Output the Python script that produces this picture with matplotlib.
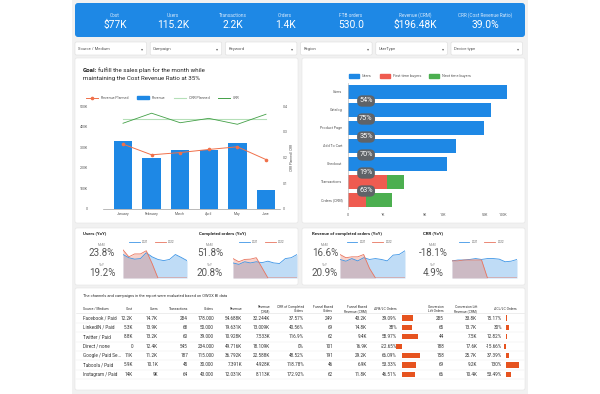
import matplotlib
matplotlib.use('Agg')
import matplotlib.pyplot as plt
from matplotlib.patches import FancyBboxPatch, Rectangle, Patch
from matplotlib.lines import Line2D
import numpy as np

plt.rcParams['font.family'] = ['Roboto', 'DejaVu Sans']

# ---------------- DATA ----------------
kpi_labels = ['Cost', 'Users', 'Transactions', 'Orders', 'FTB orders', 'Revenue (CRM)', 'CRR (Cost Revenue Ratio)']
kpi_values = ['$77K', '115.2K', '2.2K', '1.4K', '530.0', '$196.48K', '39.0%']

filters = ['Source / Medium', 'Campaign', 'Keyword', 'Region', 'UserType', 'Device type']

months = ['January', 'February', 'March', 'April', 'May', 'June']
revenue = [330000, 247000, 287000, 287000, 319000, 94000]
revenue_planned = [315000, 263000, 274000, 289000, 302000, 240000]
crr = [0.333, 0.372, 0.335, 0.352, 0.329, 0.368]
crr_planned = [0.35, 0.35, 0.35, 0.35, 0.35, 0.35]
rev_ticks = [0, 100000, 200000, 300000, 400000, 500000]
rev_tick_labels = ['0', '100K', '200K', '300K', '400K', '500K']
crr_ticks = [0, 0.1, 0.2, 0.3, 0.4]
crr_tick_labels = ['0', '0.1', '0.2', '0.3', '0.4']

stages = ['Users', 'Catalog', 'Product Page', 'Add To Cart', 'Checkout', 'Transactions', 'Orders (CRM)']
stage_users = [115200, 64000, 47600, 16700, 11800, 0, 0]
first_time_buyers = [0, 0, 0, 0, 0, 1170, 530]
next_time_buyers = [0, 0, 0, 0, 0, 1030, 870]
step_conversion = ['54%', '75%', '35%', '70%', '19%', '63%']
funnel_ticks = [261, 1000, 5000, 10000, 50000, 100000]
funnel_tick_labels = ['0', '1K', '5K', '10K', '50K', '100K']

mini_titles = ['Users (YoY)', 'Completed orders (YoY)', 'Revenue of completed orders (YoY)', 'CRR (YoY)']
mini_mom = ['23.8%', '51.8%', '16.6%', '-18.1%']
mini_yoy = ['19.2%', '20.8%', '20.9%', '4.9%']
users_2021 = [81, 70, 65, 67, 87, 73, 64, 60, 64, 81, 71, 60]
users_2022 = [97, 73, 83, 83, 94, 50, 0, 0, 0, 0, 0, 0]
orders_2021 = [52, 47, 56, 52, 56, 53, 58, 52, 50, 67, 70, 81]
orders_2022 = [67, 56, 64, 65, 70, 35, 0, 0, 0, 0, 0, 0]
revco_2021 = [64, 58, 67, 59, 70, 64, 67, 64, 59, 79, 81, 94]
revco_2022 = [81, 70, 73, 73, 81, 33, 0, 0, 0, 0, 0, 0]
crryoy_2021 = [59, 62, 62, 64, 67, 64, 67, 67, 65, 56, 58, 64]
crryoy_2022 = [59, 59, 62, 62, 62, 62, 0, 0, 0, 0, 0, 0]

table_title = 'The channels and campaigns in the report were evaluated based on OWOX BI data'
table_headers = ['Source / Medium', 'Cost', 'Users', 'Transactions', 'Orders', 'Revenue', 'Revenue\n(CRM)',
                 'CRR of Completed\nOrders', 'Funnel Based\nOrders', 'Funnel Based\nRevenue (CRM)',
                 'ΔFB/LC Orders', 'Conversion\nLift Orders', 'Conversion Lift\nRevenue (CRM)', 'ΔCL/LC Orders']
src_medium = ['Facebook / Paid', 'LinkedIN / Paid', 'Twitter / Paid', 'Direct / none', 'Google / Paid Se...',
              'Taboola / Paid', 'Instagram / Paid']
t_cost = ['12.2K', '5.3K', '8.8K', '0', '11K', '5.9K', '14K']
t_users = ['14.7K', '13.9K', '13.2K', '12.4K', '11.2K', '10.1K', '9K']
t_trans = ['284', '68', '60', '545', '187', '45', '64']
t_orders = ['178.000', '50.000', '39.000', '234.000', '115.000', '30.000', '43.000']
t_revenue = ['54.688K', '19.631K', '10.928K', '49.716K', '36.792K', '7.391K', '12.031K']
t_rev_crm = ['32.244K', '13.009K', '7.533K', '18.109K', '22.588K', '4.928K', '8.113K']
t_crr = ['37.57%', '40.56%', '116.9%', '0%', '48.52%', '118.78%', '172.92%']
t_fb_orders = ['249', '69', '62', '101', '191', '46', '62']
t_fb_rev = ['43.2K', '14.8K', '9.4K', '16.9K', '29.2K', '6.9K', '11.8K']
d_fb_lc = [39.09, 38.0, 58.97, -22.65, 66.09, 53.33, 46.51]
t_cl_orders = ['285', '65', '44', '188', '158', '69', '66']
t_cl_rev = ['33.8K', '13.7K', '7.5K', '17.6K', '25.7K', '9.2K', '10.4K']
d_cl_lc = [15.17, 30.0, 12.82, -15.66, 37.39, 130.0, 53.49]

# ---------------- LAYOUT ----------------
W, H = 600, 394
fig = plt.figure(figsize=(6, 3.94), dpi=100)
fig.patch.set_facecolor('white')


def ax_px(x0, y0, x1, y1):
    return fig.add_axes([x0 / W, 1 - y1 / H, (x1 - x0) / W, (y1 - y0) / H])


bg = ax_px(0, 0, W, H)
bg.set_xlim(0, W)
bg.set_ylim(H, 0)
bg.axis('off')
bg.set_zorder(0)


def panel(x0, y0, x1, y1, fc='white', ec='#e4e4e4', r=2.0, lw=0.4):
    bg.add_patch(FancyBboxPatch((x0, y0), x1 - x0, y1 - y0,
                                boxstyle=f'round,pad=0,rounding_size={r}',
                                fc=fc, ec=ec, lw=lw))


# page background
bg.add_patch(Rectangle((72, 0), 456, 394, fc='#f1f1f1', ec='none'))

# KPI bar
BLUE = '#1e88e5'
panel(75, 3, 525, 37, fc=BLUE, ec='none', r=3)
kpi_x = [115, 173, 233, 285, 351, 415, 485]
for x, lab, val in zip(kpi_x, kpi_labels, kpi_values):
    bg.text(x, 15, lab, ha='center', va='center', fontsize=3.4, color='#d6e9fb')
    bg.text(x, 24.5, val, ha='center', va='center', fontsize=7.4, color='white')

# filter dropdowns
for i, f in enumerate(filters):
    x0 = 75 + i * 75.2
    panel(x0, 42, x0 + 71.5, 55, ec='#dcdcdc', r=1.5)
    bg.text(x0 + 3, 48.7, f, ha='left', va='center', fontsize=3.0, color='#555555')
    bg.text(x0 + 67, 48.7, '▾', ha='center', va='center', fontsize=3.0, color='#666666')

# main panels
panel(75, 58, 298, 223)
panel(302, 58, 525, 223)
panel(75, 228, 298, 285)
panel(302, 228, 525, 285)
panel(75, 288, 525, 390)

# ---------------- LEFT CHART ----------------
bg.text(83, 70.5, 'Goal:', ha='left', va='center', fontsize=4.4, fontweight='bold', color='#222222')
bg.text(97.5, 70.5, 'fulfill the sales plan for the month while', ha='left', va='center',
        fontsize=4.4, color='#222222')
bg.text(83, 78.5, 'maintaining the Cost Revenue Ratio at 35%', ha='left', va='center',
        fontsize=4.4, color='#222222')

ORANGE = '#f0704a'
GREEN = '#43a047'
LGREEN = '#b5dfb7'
ax1 = ax_px(103, 106, 280, 209)
ax1.set_zorder(2)
ax1.patch.set_alpha(0)
xpos = np.arange(len(months))
ax1.bar(xpos, revenue, width=0.64, color=BLUE, zorder=2)
ax1.plot(xpos, revenue_planned, color=ORANGE, lw=0.7, marker='o', ms=1.6, zorder=3)
ax1.set_xlim(-0.7, 5.49)
ax1.set_ylim(0, 500000)
ax1.set_yticks(rev_ticks)
ax1.set_yticklabels(rev_tick_labels)
ax1.set_xticks(xpos)
ax1.set_xticklabels(months)
ax1.tick_params(axis='both', length=0, labelsize=2.5, colors='#555555')
ax1.tick_params(axis='y', pad=11)
ax1.tick_params(axis='x', pad=2.5)
for s in ['top', 'right', 'left']:
    ax1.spines[s].set_visible(False)
ax1.spines['bottom'].set_color('#9e9e9e')
ax1.spines['bottom'].set_linewidth(0.5)

ax2 = ax1.twinx()
ax2.plot(xpos, crr_planned, color=LGREEN, lw=0.8)
ax2.plot(xpos, crr, color=GREEN, lw=0.6)
ax2.set_ylim(0, 0.4)
ax2.set_yticks(crr_ticks)
ax2.set_yticklabels(crr_tick_labels)
ax2.tick_params(axis='y', length=0, labelsize=2.5, colors='#555555', pad=2)
for s in ['top', 'right', 'left', 'bottom']:
    ax2.spines[s].set_visible(False)
ax2.set_ylabel('CRR Planned | CRR', fontsize=2.3, color='#555555', labelpad=2)

leg_handles = [Line2D([0], [0], color=ORANGE, lw=0.7, marker='o', ms=1.6),
               Patch(color=BLUE),
               Line2D([0], [0], color=LGREEN, lw=0.8),
               Line2D([0], [0], color=GREEN, lw=0.7)]
fig.legend(leg_handles, ['Revenue Planned', 'Revenue', 'CRR Planned', 'CRR'],
           loc='center', bbox_to_anchor=(163 / W, 1 - 98 / H), ncol=4, fontsize=2.6,
           frameon=False, handlelength=3.2, handleheight=1.0, columnspacing=2.5,
           labelcolor='#555555')

# ---------------- FUNNEL CHART ----------------
RED = '#ef5b50'
FGREEN = '#4caf50'
ax3 = ax_px(348, 83, 512, 209)
ax3.set_zorder(2)
ax3.patch.set_alpha(0)
ax3.set_xscale('log')
ypos = np.arange(len(stages))
ax3.barh(ypos, stage_users, height=0.78, color=BLUE)
ax3.barh(ypos, first_time_buyers, height=0.78, color=RED)
ax3.barh(ypos, next_time_buyers, left=first_time_buyers, height=0.78, color=FGREEN)
ax3.set_xlim(261, 141000)
ax3.set_ylim(6.5, -0.5)
ax3.set_yticks(ypos)
ax3.set_yticklabels(stages)
ax3.set_xticks(funnel_ticks)
ax3.set_xticklabels(funnel_tick_labels)
ax3.xaxis.set_minor_locator(matplotlib.ticker.NullLocator())
ax3.tick_params(axis='both', length=0, labelsize=2.6, colors='#555555')
ax3.tick_params(axis='y', pad=4)
ax3.tick_params(axis='x', pad=3)
for s in ['top', 'right', 'bottom']:
    ax3.spines[s].set_visible(False)
ax3.spines['left'].set_color('#bdbdbd')
ax3.spines['left'].set_linewidth(0.5)
btrans = matplotlib.transforms.blended_transform_factory(ax3.transAxes, ax3.transData)
for i, p in enumerate(step_conversion):
    ax3.text(0.11, i + 0.5, p, transform=btrans, ha='center', va='center', fontsize=5.2,
             color='white', zorder=5,
             bbox=dict(boxstyle='round,pad=0.3,rounding_size=0.7', fc='#5f6368', ec='none'))
fig.legend([Patch(color=BLUE), Patch(color=RED), Patch(color=FGREEN)],
           ['Users', 'First time buyers', 'Next time buyers'],
           loc='center', bbox_to_anchor=(410 / W, 1 - 76 / H), ncol=3, fontsize=2.8,
           frameon=False, handlelength=2.6, handleheight=1.1, columnspacing=2.0,
           labelcolor='#555555')

# ---------------- MINI CHARTS ----------------
MBLUE = '#3d95e6'
MRED = '#e8755f'
mini_cfg = [
    (83, 102, (123, 249, 187, 278), users_2021, users_2022),
    (199, 210, (233, 249, 297, 278), orders_2021, orders_2022),
    (312, 325, (340, 249, 405, 278), revco_2021, revco_2022),
    (423, 433, (452, 249, 517, 278), crryoy_2021, crryoy_2022),
]
for k, (tx, vx, box, s21, s22) in enumerate(mini_cfg):
    bg.text(tx, 233.5, mini_titles[k], ha='left', va='center', fontsize=3.2, fontweight='bold',
            color='#222222')
    bg.text(vx, 245, 'MoM', ha='center', va='center', fontsize=2.3, color='#888888')
    bg.text(vx, 253, mini_mom[k], ha='center', va='center', fontsize=7.0, color='#555555')
    bg.text(vx, 264.5, 'YoY', ha='center', va='center', fontsize=2.3, color='#888888')
    bg.text(vx, 272.5, mini_yoy[k], ha='center', va='center', fontsize=7.0, color='#555555')
    ax = ax_px(*box)
    ax.set_zorder(2)
    xs = np.arange(len(s21))
    ax.fill_between(xs, s21, color=MBLUE, alpha=0.33, lw=0)
    ax.plot(xs, s21, color=MBLUE, lw=0.6)
    ax.fill_between(xs, s22, color=MRED, alpha=0.33, lw=0)
    ax.plot(xs, s22, color=MRED, lw=0.6)
    ax.set_xlim(0, len(s21) - 1)
    ax.set_ylim(0, 100)
    ax.axis('off')
    ax.legend([Line2D([0], [0], color=MBLUE, lw=0.6), Line2D([0], [0], color=MRED, lw=0.6)],
              ['2021', '2022'], loc='center', bbox_to_anchor=(0.45, 1.24), ncol=2,
              fontsize=2.2, frameon=False, handlelength=3.5, columnspacing=2.0,
              labelcolor='#666666')

# ---------------- TABLE ----------------
bg.text(83, 295.5, table_title, ha='left', va='center', fontsize=2.9, color='#333333')
col_x = [83, 133, 158, 188, 214, 242, 270, 304, 333, 367, 397, 444, 477, 517]
for j, (x, h) in enumerate(zip(col_x, table_headers)):
    bg.text(x, 309, h, ha='left' if j == 0 else 'right', va='center', fontsize=2.4,
            color='#333333', linespacing=1.0)
ROW0, ROWH = 318, 9.4
bg.plot([76, 524], [313.3, 313.3], color='#e0e0e0', lw=0.4)
columns = [src_medium, t_cost, t_users, t_trans, t_orders, t_revenue, t_rev_crm, t_crr,
           t_fb_orders, t_fb_rev, [f'{v:g}%' for v in d_fb_lc], t_cl_orders, t_cl_rev,
           [f'{v:g}%' for v in d_cl_lc]]
val_x = [83, 133, 158, 188, 214, 242, 270, 304, 333, 367, 397, 444, 477, 502]
for i in range(len(src_medium)):
    y = ROW0 + i * ROWH
    for j, col in enumerate(columns):
        bg.text(val_x[j], y, col[i], ha='left' if j == 0 else 'right', va='center',
                fontsize=3.3, color='#333333')
    bg.plot([76, 524], [y + ROWH / 2, y + ROWH / 2], color='#ececec', lw=0.35)

TBAR = '#e6531f'
top_i = (313 - ROW0) / ROWH
bot_i = (379 - ROW0) / ROWH
axf = ax_px(395.5, 313, 421, 379)
axf.barh(np.arange(len(d_fb_lc)), d_fb_lc, height=0.55, color=TBAR)
axf.set_xlim(-24, 70)
axf.set_ylim(bot_i, top_i)
axf.axis('off')
axf.set_zorder(2)
axc = ax_px(503, 313, 519, 379)
axc.barh(np.arange(len(d_cl_lc)), d_cl_lc, height=0.55, color=TBAR)
axc.set_xlim(-25, 135)
axc.set_ylim(bot_i, top_i)
axc.axis('off')
axc.set_zorder(2)

fig.savefig('out.png', dpi=100, facecolor='white')
